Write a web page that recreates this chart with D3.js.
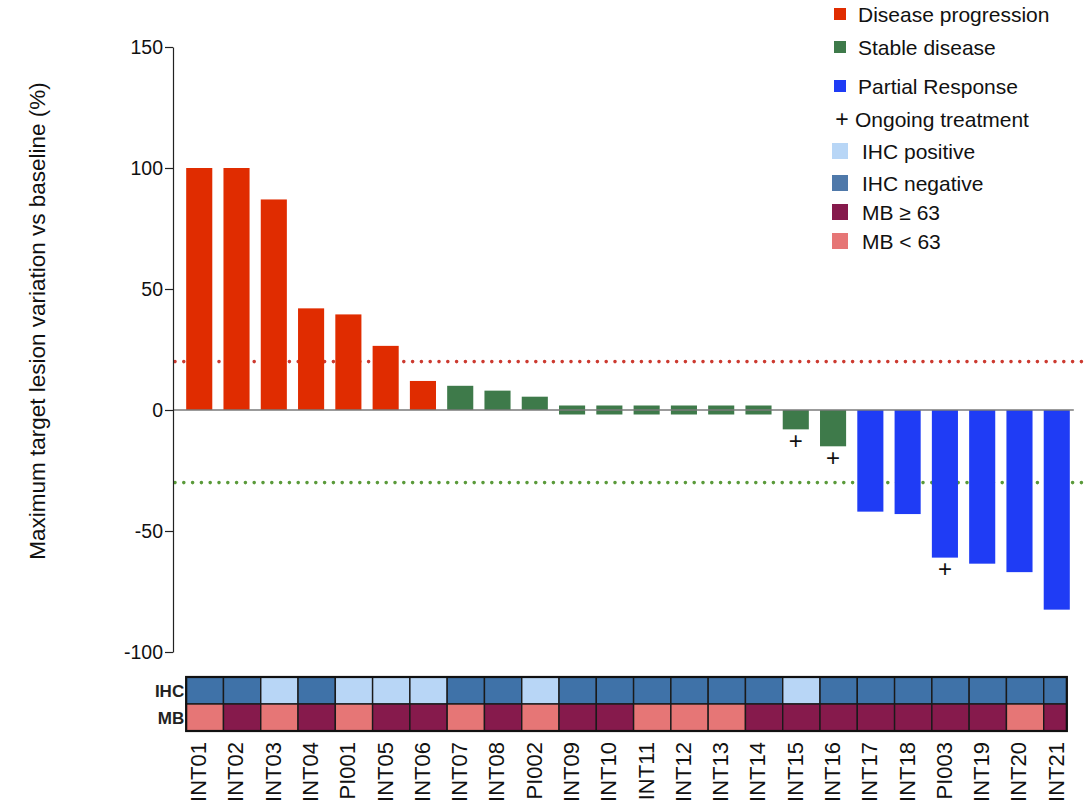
<!DOCTYPE html>
<html lang="en">
<head>
  <meta charset="UTF-8">
  <title>Waterfall plot of target lesion variation</title>
  <script src="https://d3js.org/d3.v7.min.js"></script>
  <style>
    body { margin: 0; background: #fff; }
    text { font-family: "Liberation Sans", Arial, sans-serif; }
  </style>
</head>
<body>
  <div id="chart"></div>
  <script>
    // Patients, in the order shown
    var patients = ["INT01", "INT02", "INT03", "INT04", "PI001", "INT05", "INT06", "INT07",
                    "INT08", "PI002", "INT09", "INT10", "INT11", "INT12", "INT13", "INT14",
                    "INT15", "INT16", "INT17", "INT18", "PI003", "INT19", "INT20", "INT21"];

    // Maximum target lesion variation vs baseline (%)
    var change = [100, 100, 87, 42, 39.5, 26.5, 12, 10,
                  8, 5.5, 0, 0, 0, 0, 0, 0,
                  -8, -15, -42, -43, -61, -63.5, -67, -82.5];

    // PD = disease progression, SD = stable disease, PR = partial response
    var response = ["PD", "PD", "PD", "PD", "PD", "PD", "PD", "SD",
                    "SD", "SD", "SD", "SD", "SD", "SD", "SD", "SD",
                    "SD", "SD", "PR", "PR", "PR", "PR", "PR", "PR"];

    var ongoing = ["INT15", "INT16", "PI003"];

    var ihc = ["neg", "neg", "pos", "neg", "pos", "pos", "pos", "neg",
               "neg", "pos", "neg", "neg", "neg", "neg", "neg", "neg",
               "pos", "neg", "neg", "neg", "neg", "neg", "neg", "neg"];

    var mb = ["low", "high", "low", "high", "low", "high", "high", "low",
              "high", "low", "high", "high", "low", "low", "low", "high",
              "high", "high", "high", "high", "high", "high", "low", "high"];

    var yTicks = [150, 100, 50, 0, -50, -100];
    var thresholds = [20, -30];

    var legendLabels = ["Disease progression", "Stable disease", "Partial Response",
                        "Ongoing treatment", "IHC positive", "IHC negative", "MB \u2265 63", "MB < 63"];

    // colours
    var respColor = {PD: "#e02c00", SD: "#3e7a4a", PR: "#1f3cf5"};
    var ihcColor = {pos: "#b8d6f6", neg: "#3f72a8"};
    var mbColor = {high: "#861a4c", low: "#e67676"};

    var W = 1084, H = 806;

    var svg = d3.select("#chart").append("svg")
        .attr("width", W)
        .attr("height", H);

    // Scales
    var x = d3.scaleBand()
        .domain(patients)
        .range([175, 1081])
        .paddingInner(0.3)
        .paddingOuter(0.3);

    var y = d3.scaleLinear()
        .domain([-100, 150])
        .range([652, 47]);

    var axisX = 173;

    // Threshold dotted lines (behind the bars)
    svg.selectAll(".thr")
      .data(thresholds)
      .enter()
      .append("line")
        .attr("x1", axisX + 2)
        .attr("x2", W)
        .attr("y1", function(d) { return y(d); })
        .attr("y2", function(d) { return y(d); })
        .attr("stroke", function(d) { return d > 0 ? "#cc3a30" : "#5a9a3a"; })
        .attr("stroke-width", 3.6)
        .attr("stroke-linecap", "round")
        .attr("stroke-dasharray", "0 8.8");

    // Bars (values near zero get a minimum visible thickness)
    var minH = 9;
    svg.selectAll(".bar")
      .data(patients)
      .enter()
      .append("rect")
        .attr("x", function(d) { return x(d); })
        .attr("width", x.bandwidth())
        .attr("y", function(d, i) {
          var v = change[i];
          var top = y(Math.max(0, v)), bot = y(Math.min(0, v));
          return (bot - top < minH) ? (top + bot) / 2 - minH / 2 : top;
        })
        .attr("height", function(d, i) {
          var v = change[i];
          var h = y(Math.min(0, v)) - y(Math.max(0, v));
          return Math.max(h, minH);
        })
        .attr("fill", function(d, i) { return respColor[response[i]]; });

    // Zero line
    svg.append("line")
      .attr("x1", axisX)
      .attr("x2", x(patients[patients.length - 1]) + x.bandwidth() + 4)
      .attr("y1", y(0))
      .attr("y2", y(0))
      .attr("stroke", "#7a7a7a")
      .attr("stroke-width", 1.6);

    // Ongoing treatment markers
    svg.selectAll(".plus")
      .data(patients.filter(function(d) { return ongoing.indexOf(d) >= 0; }))
      .enter()
      .append("text")
        .attr("x", function(d) { return x(d) + x.bandwidth() / 2; })
        .attr("y", function(d) { return y(change[patients.indexOf(d)]) + 11; })
        .attr("text-anchor", "middle")
        .attr("dominant-baseline", "central")
        .style("font-size", "24px")
        .attr("fill", "#111")
        .text("+");

    // Y axis
    var yAxis = svg.append("g")
        .attr("transform", "translate(" + axisX + ",0)")
        .call(d3.axisLeft(y).tickValues(yTicks).tickSize(8).tickSizeOuter(0).tickPadding(2)
          .tickFormat(function(d) { return String(d); }));
    yAxis.select(".domain").attr("stroke", "#222").attr("stroke-width", 1.2);
    yAxis.selectAll(".tick line").attr("stroke", "#222").attr("stroke-width", 1.2);
    yAxis.selectAll(".tick text")
        .style("font-size", "19.5px")
        .attr("fill", "#111")
        .attr("font-family", "Liberation Sans, Arial, sans-serif");

    // Y-axis label
    svg.append("text")
      .attr("transform", "translate(37,321) rotate(-90)")
      .attr("text-anchor", "middle")
      .attr("dominant-baseline", "central")
      .style("font-size", "22.5px")
      .attr("fill", "#111")
      .text("Maximum target lesion variation vs baseline (%)");

    // Heatmap rows: IHC and MB
    var rowTop = 677, rowH = 27;
    var step = x.step();
    var left = x(patients[0]);
    var right = x(patients[patients.length - 1]) + x.bandwidth() - 3;
    function cellW(i) {
      return i === patients.length - 1 ? right - x(patients[i]) : step;
    }

    var rows = [{name: "IHC", vals: ihc, col: ihcColor}, {name: "MB", vals: mb, col: mbColor}];
    rows.forEach(function(r, ri) {
      svg.selectAll(".cell" + ri)
        .data(patients)
        .enter()
        .append("rect")
          .attr("x", function(d) { return x(d); })
          .attr("y", rowTop + ri * rowH)
          .attr("width", function(d, i) { return cellW(i); })
          .attr("height", rowH)
          .attr("fill", function(d, i) { return r.col[r.vals[i]]; })
          .attr("stroke", "#1a1a1a")
          .attr("stroke-width", 1.4);

      svg.append("text")
        .attr("x", left - 2)
        .attr("y", rowTop + ri * rowH + rowH / 2 + 1)
        .attr("text-anchor", "end")
        .attr("dominant-baseline", "central")
        .style("font-size", "17px")
        .style("font-weight", "bold")
        .attr("fill", "#222")
        .text(r.name);
    });

    svg.append("rect")
      .attr("x", left)
      .attr("y", rowTop)
      .attr("width", right - left)
      .attr("height", rowH * 2)
      .attr("fill", "none")
      .attr("stroke", "#111")
      .attr("stroke-width", 2.2);

    // Patient labels (rotated)
    svg.selectAll(".plabel")
      .data(patients)
      .enter()
      .append("text")
        .attr("transform", function(d) {
          return "translate(" + (x(d) + x.bandwidth() / 2 - 1) + ",742) rotate(-90)";
        })
        .attr("text-anchor", "end")
        .attr("dy", "0.36em")
        .style("font-size", "22px")
        .attr("fill", "#111")
        .text(function(d) { return d; });

    // Legend
    var legendY = [14, 47, 86, 119, 151, 183, 212, 241];
    var legendSwatch = [respColor.PD, respColor.SD, respColor.PR, null,
                        ihcColor.pos, "#4f79aa", mbColor.high, mbColor.low];

    var lg = svg.append("g");
    legendLabels.forEach(function(lab, i) {
      var cy = legendY[i];
      if (i < 3) {
        lg.append("rect").attr("x", 834).attr("y", cy - 6).attr("width", 12).attr("height", 12)
          .attr("fill", legendSwatch[i]);
        lg.append("text").attr("x", 858).attr("y", cy).attr("dominant-baseline", "central")
          .style("font-size", "21px").attr("fill", "#111").text(lab);
      } else if (i === 3) {
        lg.append("text").attr("x", 842).attr("y", cy).attr("text-anchor", "middle")
          .attr("dominant-baseline", "central").style("font-size", "23px").attr("fill", "#111").text("+");
        lg.append("text").attr("x", 855).attr("y", cy).attr("dominant-baseline", "central")
          .style("font-size", "21px").attr("fill", "#111").text(lab);
      } else {
        lg.append("rect").attr("x", 832).attr("y", cy - 8).attr("width", 16).attr("height", 16)
          .attr("fill", legendSwatch[i]);
        lg.append("text").attr("x", 862).attr("y", cy).attr("dominant-baseline", "central")
          .style("font-size", "21px").attr("fill", "#111").text(lab);
      }
    });
  </script>
</body>
</html>
